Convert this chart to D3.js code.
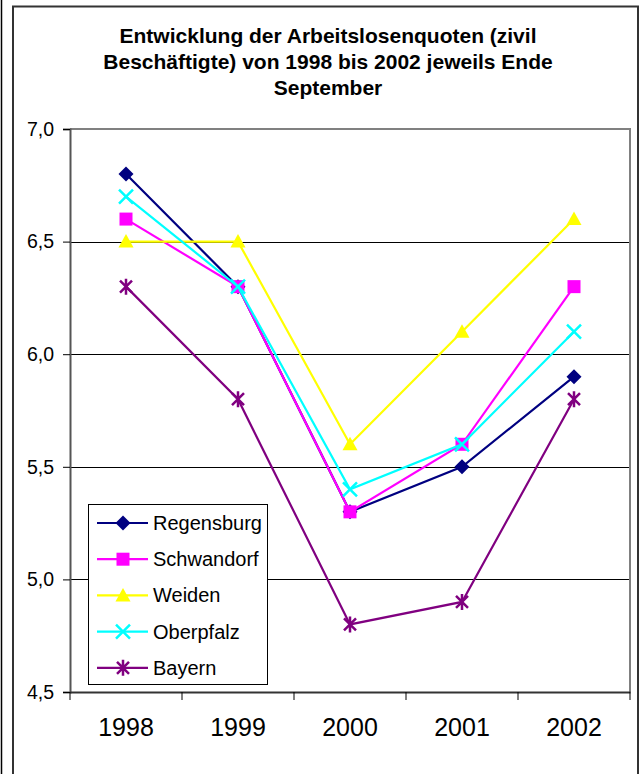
<!DOCTYPE html>
<html>
<head>
<meta charset="utf-8">
<script src="https://cdn.jsdelivr.net/npm/d3@7"></script>
<style>
  body { margin: 0; background: #fff; }
  svg { display: block; font-family: Arial, "Liberation Sans", sans-serif; }
</style>
</head>
<body>
<script>
var years = ["1998", "1999", "2000", "2001", "2002"];
var seriesNames = ["Regensburg", "Schwandorf", "Weiden", "Oberpfalz", "Bayern"];
var regensburg = [6.8, 6.3, 5.3, 5.5, 5.9];
var schwandorf = [6.6, 6.3, 5.3, 5.6, 6.3];
var weiden = [6.5, 6.5, 5.6, 6.1, 6.6];
var oberpfalz = [6.7, 6.3, 5.4, 5.6, 6.1];
var bayern = [6.3, 5.8, 4.8, 4.9, 5.8];
var yTicks = [4.5, 5.0, 5.5, 6.0, 6.5, 7.0];
var titleLines = ["Entwicklung der Arbeitslosenquoten (zivil", "Beschäftigte) von 1998 bis 2002 jeweils Ende", "September"];

var colors = ["#000080", "#ff00ff", "#ffff00", "#00ffff", "#800080"];
var shapes = ["diamond", "square", "triangle", "x", "star"];
var allValues = [regensburg, schwandorf, weiden, oberpfalz, bayern];

var series = seriesNames.map(function (n, i) {
  return { name: n, values: allValues[i], color: colors[i], shape: shapes[i] };
});

var width = 642, height = 774;
var plot = { left: 70, right: 630, top: 129, bottom: 692 };

var svg = d3.select("body").append("svg").attr("width", width).attr("height", height);

// outer frames
svg.append("line").attr("x1", 1.5).attr("x2", 1.5).attr("y1", 0).attr("y2", height)
  .attr("stroke", "#000").attr("stroke-width", 1.5);
svg.append("rect").attr("x", 13).attr("y", 6.5).attr("width", 625).attr("height", height + 10)
  .attr("fill", "none").attr("stroke", "#333").attr("stroke-width", 2);

// title
svg.append("text")
  .attr("text-anchor", "middle")
  .attr("font-weight", "bold")
  .attr("font-size", "21px")
  .selectAll("tspan")
  .data(titleLines)
  .enter()
  .append("tspan")
  .attr("x", 328)
  .attr("y", (d, i) => 43 + i * 26)
  .text((d) => d);

var x = d3.scaleBand().domain(years).range([plot.left, plot.right]);
var y = d3.scaleLinear().domain([4.5, 7.0]).range([plot.bottom, plot.top]);

// gridlines
svg.append("g")
  .selectAll("line")
  .data(yTicks.slice(1, 5))
  .enter()
  .append("line")
  .attr("x1", plot.left).attr("x2", plot.right)
  .attr("y1", (d) => Math.round(y(d)) + 0.5).attr("y2", (d) => Math.round(y(d)) + 0.5)
  .attr("stroke", "#000").attr("stroke-width", 1);

// plot border top / right
svg.append("path")
  .attr("d", "M" + plot.left + "," + plot.top + "H" + plot.right + "V" + plot.bottom)
  .attr("fill", "none").attr("stroke", "#808080").attr("stroke-width", 2);

// y axis
var yAxis = svg.append("g").attr("transform", "translate(" + plot.left + ",0)")
  .call(d3.axisLeft(y).tickValues(yTicks).tickSize(7).tickPadding(9)
    .tickFormat((d) => d3.format(".1f")(d).replace(".", ",")));
yAxis.select(".domain").attr("stroke", "#555").attr("stroke-width", 2);
yAxis.selectAll(".tick line").attr("stroke", "#000");
yAxis.selectAll("text").attr("font-size", "19.5px").attr("fill", "#000").attr("font-family", "Arial, 'Liberation Sans', sans-serif");

// x axis
var xAxis = svg.append("g").attr("transform", "translate(0," + plot.bottom + ")")
  .call(d3.axisBottom(x).tickSize(0).tickPadding(26));
xAxis.select(".domain").attr("stroke", "#333").attr("stroke-width", 2);
xAxis.selectAll("text").attr("font-size", "25px").attr("fill", "#000").attr("font-family", "Arial, 'Liberation Sans', sans-serif");
svg.append("g")
  .selectAll("line")
  .data(years.concat(["end"]))
  .enter()
  .append("line")
  .attr("x1", (d, i) => i < years.length ? x(d) : plot.right)
  .attr("x2", (d, i) => i < years.length ? x(d) : plot.right)
  .attr("y1", plot.bottom).attr("y2", plot.bottom + 8)
  .attr("stroke", "#000").attr("stroke-width", 1);

function drawMarker(g, shape, color) {
  if (shape == "diamond") {
    g.append("path").attr("d", "M0,-7.5L7.5,0L0,7.5L-7.5,0Z").attr("fill", color);
  } else if (shape == "square") {
    g.append("rect").attr("x", -6.5).attr("y", -6.5).attr("width", 13).attr("height", 13).attr("fill", color);
  } else if (shape == "triangle") {
    g.append("path").attr("d", "M0,-7.5L7.5,6L-7.5,6Z").attr("fill", color);
  } else if (shape == "x") {
    g.append("path").attr("d", "M-7,-7L7,7M-7,7L7,-7").attr("stroke", color).attr("stroke-width", 2.5);
  } else if (shape == "star") {
    g.append("path").attr("d", "M-6,-6L6,6M-6,6L6,-6M0,-8V8").attr("stroke", color).attr("stroke-width", 2.5);
  }
}

var cx = (d, i) => x(years[i]) + x.bandwidth() / 2;

var line = d3.line()
  .x((d, i) => x(years[i]) + x.bandwidth() / 2)
  .y((d) => y(d));

series.forEach(function (s) {
  svg.append("path")
    .datum(s.values)
    .attr("d", line)
    .attr("fill", "none")
    .attr("stroke", s.color)
    .attr("stroke-width", 2.2);
  s.values.forEach(function (v, i) {
    var g = svg.append("g").attr("transform", "translate(" + cx(v, i) + "," + y(v) + ")");
    drawMarker(g, s.shape, s.color);
  });
});

// legend
var leg = svg.append("g").attr("id", "legend");
leg.append("rect").attr("x", 88.5).attr("y", 504.5).attr("width", 179).attr("height", 180)
  .attr("fill", "#fff").attr("stroke", "#000").attr("stroke-width", 1);
series.forEach(function (s, i) {
  var ly = 523 + i * 36.2;
  leg.append("line").attr("x1", 97).attr("x2", 148).attr("y1", ly).attr("y2", ly)
    .attr("stroke", s.color).attr("stroke-width", 2.2);
  var g = leg.append("g").attr("transform", "translate(123," + ly + ")");
  drawMarker(g, s.shape, s.color);
  leg.append("text").attr("x", 153).attr("y", ly + 7).attr("font-size", "20px").text(s.name);
});
</script>
</body>
</html>
